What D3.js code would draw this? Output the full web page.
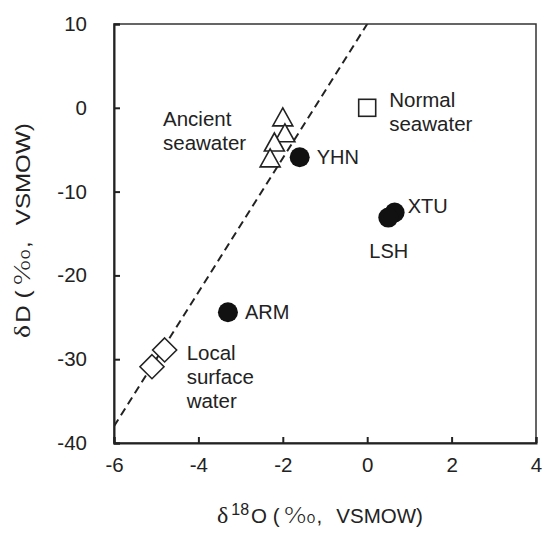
<!DOCTYPE html>
<html lang="en">
<head>
  <meta charset="UTF-8">
  <title>dD vs d18O</title>
  <script src="https://d3js.org/d3.v7.min.js"></script>
  <style>
    body { margin: 0; background: #fff; }
    text { font-family: "Liberation Sans", Arial, sans-serif; fill: #222; }
  </style>
</head>
<body>
  <div id="chart"></div>

  <script>
    // data
    const xTicks = [-6, -4, -2, 0, 2, 4];
    const yTicks = [-40, -30, -20, -10, 0, 10];

    const normalO = [0];
    const normalD = [0];

    const ancientO = [-2.0, -1.95, -2.2, -2.3];
    const ancientD = [-1.2, -3.1, -4.2, -6.1];

    const localO = [-4.8, -5.1];
    const localD = [-28.9, -30.9];

    const siteNames = ["YHN", "XTU", "LSH", "ARM"];
    const siteO = [-1.6, 0.65, 0.5, -3.3];
    const siteD = [-5.9, -12.5, -13.1, -24.4];

    // meteoric water line: dD = 8 * d18O + 10
    const mwlSlope = 8;
    const mwlIntercept = 10;

    const width = 543, height = 533;
    const margin = {top: 24, right: 7, bottom: 90, left: 114};

    const x = d3.scaleLinear()
      .domain([-6, 4])
      .range([margin.left, width - margin.right]);

    const y = d3.scaleLinear()
      .domain([-40, 10])
      .range([height - margin.bottom, margin.top]);

    const svg = d3.select("#chart").append("svg")
      .attr("width", width)
      .attr("height", height);

    svg.append("clipPath").attr("id", "plot")
      .append("rect")
        .attr("x", x(-6)).attr("y", y(10))
        .attr("width", x(4) - x(-6)).attr("height", y(-40) - y(10));

    // dashed water line
    const lineX = [-6, 4];
    svg.append("line")
      .attr("clip-path", "url(#plot)")
      .attr("x1", x(lineX[0])).attr("y1", y(mwlSlope * lineX[0] + mwlIntercept))
      .attr("x2", x(lineX[1])).attr("y2", y(mwlSlope * lineX[1] + mwlIntercept))
      .attr("stroke", "#222")
      .attr("stroke-width", 2)
      .attr("stroke-dasharray", "8,5");

    // frame (top and right)
    svg.append("rect")
      .attr("x", x(-6)).attr("y", y(10))
      .attr("width", x(4) - x(-6)).attr("height", y(-40) - y(10))
      .attr("fill", "none")
      .attr("stroke", "#333")
      .attr("stroke-width", 1.5);

    // axes with inward ticks
    const xAxis = svg.append("g")
      .attr("transform", `translate(0,${y(-40)})`)
      .call(d3.axisBottom(x).tickValues(xTicks).tickSize(-6).tickPadding(14).tickFormat(d3.format("d")));

    const yAxis = svg.append("g")
      .attr("transform", `translate(${x(-6)},0)`)
      .call(d3.axisLeft(y).tickValues(yTicks).tickSize(-6).tickPadding(27).tickFormat(d3.format("d")));

    [xAxis, yAxis].forEach(g => {
      g.select(".domain").attr("stroke", "#222").attr("stroke-width", 2);
      g.selectAll(".tick line").attr("stroke", "#222").attr("stroke-width", 2);
      g.selectAll(".tick text")
        .attr("font-size", 20.5)
        .attr("font-family", "Liberation Sans, Arial, sans-serif")
        .attr("fill", "#222")
        .text(d => String(d));
    });

    // axis titles
    function permille(t, size) {
      t.append("tspan")
        .attr("dx", 4)
        .attr("font-family", "DejaVu Sans, sans-serif")
        .attr("font-weight", 300)
        .attr("font-size", size)
        .attr("textLength", 33)
        .attr("lengthAdjust", "spacingAndGlyphs")
        .text("‰");
    }

    const xTitle = svg.append("text")
      .attr("x", 217)
      .attr("y", 523)
      .attr("font-size", 20.5);
    xTitle.append("tspan").attr("font-family", "Liberation Serif, serif").attr("font-size", 24).text("δ");
    xTitle.append("tspan").attr("dx", 3).attr("dy", -8).attr("font-size", 16).text("18");
    xTitle.append("tspan").attr("dx", 2).attr("dy", 8).text("O (");
    permille(xTitle, 21);
    xTitle.append("tspan").text(",");
    xTitle.append("tspan").attr("dx", 14).text("VSMOW)");

    const yTitle = svg.append("text")
      .attr("transform", `translate(30,338) rotate(-90) scale(1.15,1)`)
      .attr("font-size", 21);
    yTitle.append("tspan").attr("font-family", "Liberation Serif, serif").attr("font-size", 24).text("δ");
    yTitle.append("tspan").attr("dx", 2).text("D (");
    permille(yTitle, 21);
    yTitle.append("tspan").text(",");
    yTitle.append("tspan").attr("dx", 14).text("VSMOW)");

    // local surface water (diamonds)
    svg.append("g").selectAll("path")
      .data(localO.map((o, i) => [o, localD[i]]))
      .join("path")
        .attr("d", d => {
          const cx = x(d[0]), cy = y(d[1]), r = 12;
          return `M${cx},${cy - r}L${cx + r},${cy}L${cx},${cy + r}L${cx - r},${cy}Z`;
        })
        .attr("fill", "#fff")
        .attr("stroke", "#222")
        .attr("stroke-width", 1.6);

    // ancient seawater (triangles)
    svg.append("g").selectAll("path")
      .data(ancientO.map((o, i) => [o, ancientD[i]]))
      .join("path")
        .attr("d", d => {
          const cx = x(d[0]), cy = y(d[1]);
          return `M${cx},${cy - 10}L${cx + 10},${cy + 8}L${cx - 10},${cy + 8}Z`;
        })
        .attr("fill", "#fff")
        .attr("stroke", "#222")
        .attr("stroke-width", 1.6);

    // normal seawater (square)
    svg.append("g").selectAll("rect")
      .data(normalO.map((o, i) => [o, normalD[i]]))
      .join("rect")
        .attr("x", d => x(d[0]) - 8.5)
        .attr("y", d => y(d[1]) - 8.5)
        .attr("width", 17)
        .attr("height", 17)
        .attr("fill", "#fff")
        .attr("stroke", "#222")
        .attr("stroke-width", 1.6);

    // sample sites (filled circles)
    svg.append("g").selectAll("circle")
      .data(siteO.map((o, i) => [o, siteD[i]]))
      .join("circle")
        .attr("cx", d => x(d[0]))
        .attr("cy", d => y(d[1]))
        .attr("r", 10)
        .attr("fill", "#111");

    // site labels
    const siteOffsets = [[17, 7], [13, 0], [-19, 40], [17, 7]];
    svg.append("g").selectAll("text")
      .data(siteNames)
      .join("text")
        .attr("x", (d, i) => x(siteO[i]) + siteOffsets[i][0])
        .attr("y", (d, i) => y(siteD[i]) + siteOffsets[i][1])
        .attr("font-size", 20)
        .text(d => d);

    // group labels
    const groupLabels = [
      {lines: ["Normal", "seawater"], x: x(normalO[0]) + 22, y: y(normalD[0]) - 1},
      {lines: ["Ancient", "seawater"], x: 163, y: 126},
      {lines: ["Local", "surface", "water"], x: x(localO[0]) + 22, y: y(localD[0]) + 10}
    ];
    groupLabels.forEach(g => {
      const t = svg.append("text")
        .attr("x", g.x)
        .attr("y", g.y)
        .attr("font-size", 20.5);
      g.lines.forEach((l, i) => {
        t.append("tspan").attr("x", g.x).attr("dy", i === 0 ? 0 : 24).text(l);
      });
    });
  </script>
</body>
</html>
